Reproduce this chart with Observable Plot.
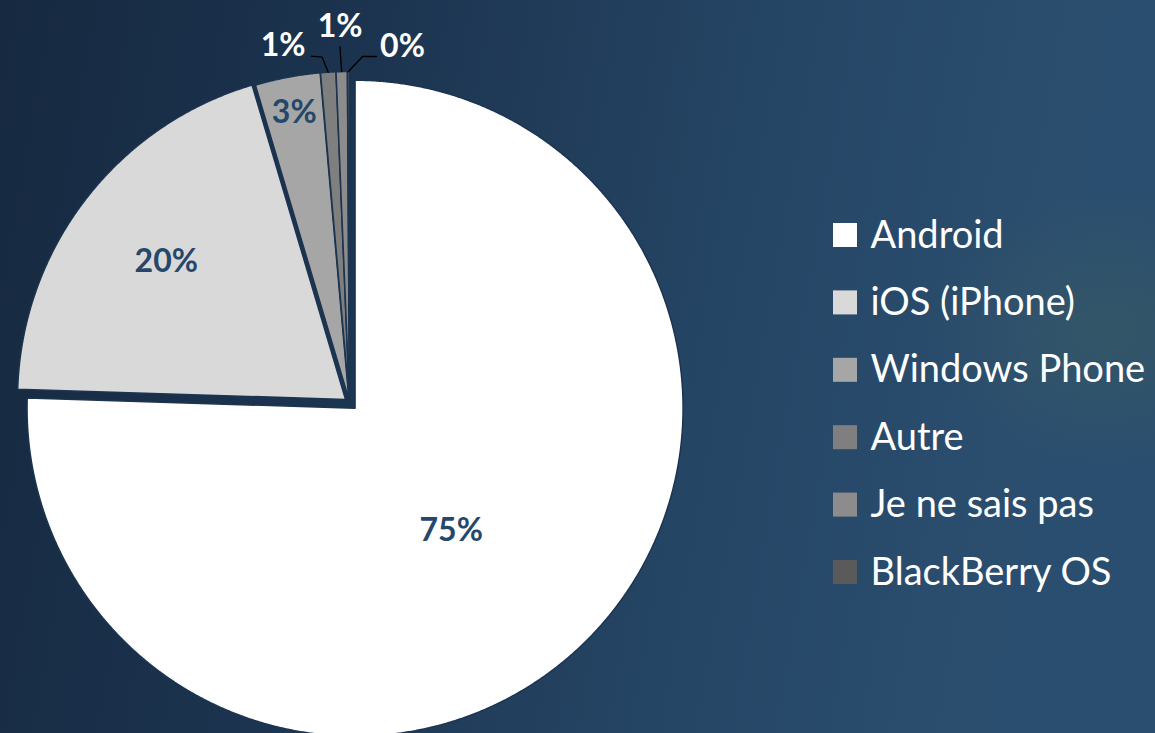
<!DOCTYPE html>
<html>
<head>
<meta charset="utf-8">
<script src="https://cdn.jsdelivr.net/npm/d3@7"></script>
<script src="https://cdn.jsdelivr.net/npm/@observablehq/plot@0.6"></script>
<style>
  html, body { margin: 0; padding: 0; width: 1155px; height: 733px; overflow: hidden; }
  body {
    background:
      radial-gradient(ellipse 260px 200px at 1110px 330px, rgba(70,100,90,0.35), rgba(0,0,0,0) 70%),
      linear-gradient(100deg, #162940 0%, #1c3450 30%, #254564 60%, #2b4e6f 85%, #2a4e70 100%);
    font-family: Lato, "Open Sans", sans-serif;
  }
  #chart svg { display: block; }
</style>
</head>
<body>
<div id="chart"></div>
<script>
// ---- data ----
const categories = ["Android", "iOS (iPhone)", "Windows Phone", "Autre", "Je ne sais pas", "BlackBerry OS"];
const shares = [75.5, 19.9, 3.2, 0.75, 0.55, 0.1];
const shareLabels = ["75%", "20%", "3%", "1%", "1%", "0%"];
const colors = ["#ffffff", "#d9d9d9", "#a6a6a6", "#7f7f7f", "#8c8c8c", "#5a5a5a"];

// ---- layout (not data) ----
const W = 1155, H = 733;
const center = {x: 349, y: 402};
const radius = 328;
const explode = [8, 5, 3, 3, 3, 3];
const insideLabelRadius = [0.475, 0.69, 0.89, null, null, null];
const insideLabelTurn = [6, 0, 0, 0, 0, 0]; // degrees, clockwise shift from mid-angle
// outside labels: offsets relative to the slice's outer mid point
const outsideLayout = {
  3: {elbow: [-6, -15], end: [-17, -16], label: [-45, -26]},
  4: {elbow: [-1.6, -22], end: [-1.6, -25], label: [-1.6, -45]},
  5: {elbow: [14, -15], end: [28, -15], label: [54, -25]}
};
const legend = {x: 833, textX: 870, y0: 235, dy: 67.4, box: 24, fontSize: 38};

// ---- computation ----
const arcs = d3.pie().sort(null).value(d => d)(shares);
const pt = (cx, cy, r, a) => ({x: cx + r * Math.sin(a), y: cy - r * Math.cos(a)});

const slicePts = [];
const labelPts = [];
const leaderPts = [];
arcs.forEach((a, i) => {
  const mid = (a.startAngle + a.endAngle) / 2;
  const cx = center.x + explode[i] * Math.sin(mid);
  const cy = center.y - explode[i] * Math.cos(mid);
  const poly = [{slice: i, x: cx, y: cy, color: colors[i]}];
  const n = Math.max(2, Math.ceil((a.endAngle - a.startAngle) / (Math.PI / 720)));
  for (let k = 0; k <= n; k++) {
    const ang = a.startAngle + (a.endAngle - a.startAngle) * k / n;
    poly.push({slice: i, ...pt(cx, cy, radius, ang), color: colors[i]});
  }
  poly.push({slice: i, x: cx, y: cy, color: colors[i]});
  slicePts.push(...poly);

  if (insideLabelRadius[i] != null) {
    const p = pt(cx, cy, radius * insideLabelRadius[i], mid + insideLabelTurn[i] * Math.PI / 180);
    labelPts.push({...p, text: shareLabels[i], fill: "#25476b"});
  } else {
    const o = pt(cx, cy, radius, mid);
    const L = outsideLayout[i];
    leaderPts.push({slice: i, x: o.x, y: o.y});
    leaderPts.push({slice: i, x: o.x + L.elbow[0], y: o.y + L.elbow[1]});
    leaderPts.push({slice: i, x: o.x + L.end[0], y: o.y + L.end[1]});
    labelPts.push({x: o.x + L.label[0], y: o.y + L.label[1], text: shareLabels[i], fill: "#ffffff"});
  }
});

const legendRows = categories.map((c, i) => ({
  name: c,
  color: colors[i],
  x1: legend.x, x2: legend.x + legend.box,
  yc: legend.y0 + i * legend.dy
}));

const chart = Plot.plot({
  width: W,
  height: H,
  margin: 0,
  style: {background: "transparent", overflow: "visible"},
  x: {domain: [0, W], range: [0, W], axis: null},
  y: {domain: [0, H], range: [0, H], axis: null},
  marks: [
    Plot.line(slicePts, {x: "x", y: "y", z: "slice", fill: "color", stroke: "#1c3450", strokeWidth: 1.5, curve: "linear"}),
    Plot.line(leaderPts, {x: "x", y: "y", z: "slice", stroke: "#000000", strokeWidth: 1.3}),
    Plot.text(labelPts, {x: "x", y: "y", text: "text", fill: "fill", fontSize: 32, fontWeight: "bold", fontFamily: "Lato, 'Open Sans', sans-serif"}),
    Plot.rect(legendRows, {x1: "x1", x2: "x2", y1: d => d.yc - legend.box / 2, y2: d => d.yc + legend.box / 2, fill: "color"}),
    Plot.text(legendRows, {x: () => legend.textX, y: "yc", text: "name", fill: "#ffffff", textAnchor: "start", fontSize: legend.fontSize, fontFamily: "Lato, 'Open Sans', sans-serif"})
  ]
});
document.getElementById("chart").appendChild(chart);
</script>
</body>
</html>
